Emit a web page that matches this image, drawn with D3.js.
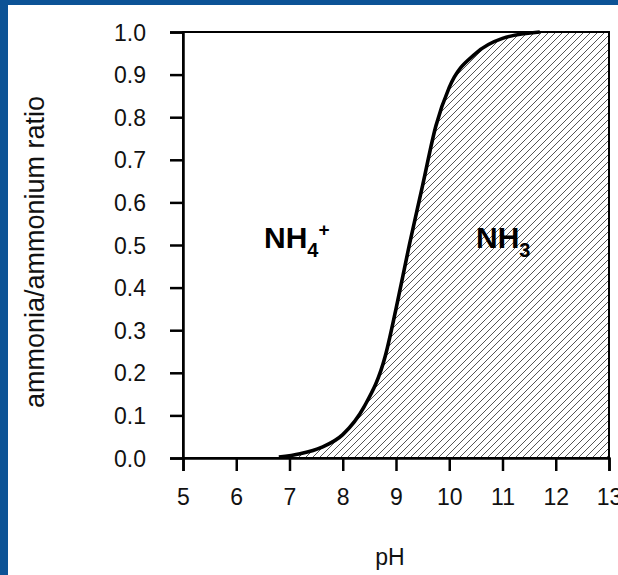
<!DOCTYPE html>
<html><head><meta charset="utf-8">
<script src="https://cdn.jsdelivr.net/npm/d3@7"></script>
<style>html,body{margin:0;padding:0;background:#fff;}svg{display:block;}</style>
</head><body>
<script>
// Data: fraction of ammonia (NH3) vs pH
const phValues    = [5, 6, 6.8, 7.2, 7.6, 8, 8.4, 8.8, 9.0, 9.25, 9.5, 9.75, 10, 10.5, 11, 11.7, 13];
const ratioValues = [0, 0, 0.002, 0.01, 0.025, 0.055, 0.12, 0.24, 0.35, 0.5, 0.64, 0.78, 0.87, 0.95, 0.985, 1.0, 1.0];
const xTicks = [5, 6, 7, 8, 9, 10, 11, 12, 13];
const yTicks = [0, 0.1, 0.2, 0.3, 0.4, 0.5, 0.6, 0.7, 0.8, 0.9, 1.0];
const lineStart = 6.8, lineEnd = 11.7;

const W = 618, H = 575;
const svg = d3.select("body").append("svg").attr("width", W).attr("height", H);
const font = "'Liberation Sans', Arial, sans-serif";

// blue frame
svg.append("rect").attr("x",0).attr("y",0).attr("width",W).attr("height",H).attr("fill","#0c5396");
svg.append("rect").attr("x",8).attr("y",5).attr("width",W-8).attr("height",H-5).attr("fill","#fff");

const x = d3.scaleLinear().domain([5, 13]).range([183, 609]);
const y = d3.scaleLinear().domain([0, 1]).range([458, 32]);

const data = phValues.map((p, i) => ({p, r: ratioValues[i]}));

// hatch pattern
const defs = svg.append("defs");
const pat = defs.append("pattern").attr("id","hatch").attr("patternUnits","userSpaceOnUse")
  .attr("width",7).attr("height",7);
pat.append("path").attr("d","M-1,8 L8,-1 M-1,1 L1,-1 M6,8 L8,6")
  .attr("stroke","#555").attr("stroke-width",1);

const curve = d3.curveMonotoneX;
// hatched area between curve and bottom
svg.append("path").datum(data)
  .attr("d", d3.area().x(d=>x(d.p)).y0(y(0)).y1(d=>y(d.r)).curve(curve))
  .attr("fill","url(#hatch)");

// curve line
svg.append("path").datum(data.filter(d=>d.p>=lineStart && d.p<=lineEnd))
  .attr("d", d3.line().x(d=>x(d.p)).y(d=>y(d.r)).curve(curve))
  .attr("fill","none").attr("stroke","#000").attr("stroke-width",3.6);

// frame
svg.append("rect").attr("x",x(5)).attr("y",y(1)).attr("width",x(13)-x(5)).attr("height",y(0)-y(1))
  .attr("fill","none").attr("stroke","#000").attr("stroke-width",2);

// axes
const xAxis = svg.append("g").attr("transform",`translate(0,${y(0)})`)
  .call(d3.axisBottom(x).tickValues(xTicks).tickSize(13).tickPadding(18).tickFormat(d3.format("d")));
const yAxis = svg.append("g").attr("transform",`translate(${x(5)},0)`)
  .call(d3.axisLeft(y).tickValues(yTicks).tickSize(13).tickPadding(24).tickFormat(d3.format(".1f")));
[xAxis, yAxis].forEach(g => {
  g.select(".domain").attr("stroke","#000").attr("stroke-width",2.5);
  g.selectAll(".tick line").attr("stroke","#000").attr("stroke-width",2.5);
  g.selectAll(".tick text").attr("fill","#111").style("font-family",font).style("font-size","23px");
});
yAxis.selectAll(".tick text").attr("dy","0.35em");

// axis titles
svg.append("text").attr("x",390).attr("y",565).attr("text-anchor","middle")
  .style("font-family",font).style("font-size","23px").attr("fill","#111").text("pH");
svg.append("text").attr("transform","translate(44,252) rotate(-90)").attr("text-anchor","middle")
  .style("font-family",font).style("font-size","27px").attr("fill","#111").text("ammonia/ammonium ratio");

// species labels
const l1 = svg.append("text").attr("x",264).attr("y",248)
  .style("font-family",font).style("font-size","30px").style("font-weight","bold").attr("fill","#000");
l1.append("tspan").text("NH");
l1.append("tspan").attr("dy",9).style("font-size","20px").text("4");
l1.append("tspan").attr("dy",-21).style("font-size","19px").text("+");
const l2 = svg.append("text").attr("x",476).attr("y",248)
  .style("font-family",font).style("font-size","30px").style("font-weight","bold").attr("fill","#000");
l2.append("tspan").text("NH");
l2.append("tspan").attr("dy",9).style("font-size","20px").text("3");
</script>
</body></html>
